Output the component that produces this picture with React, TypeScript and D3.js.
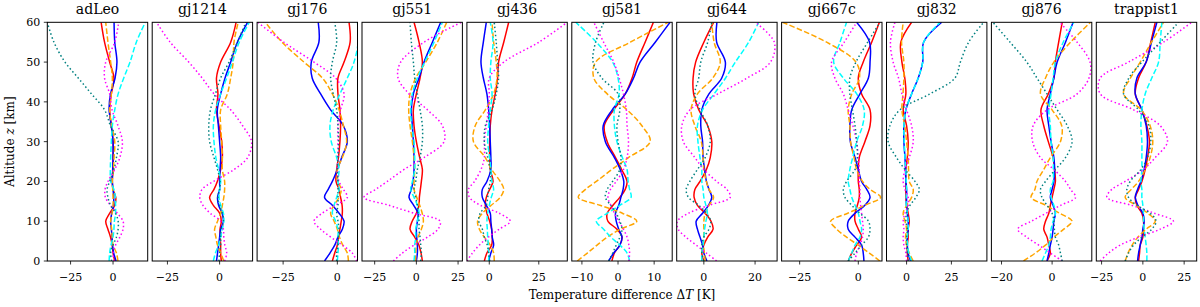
import React from "react";
import * as d3 from "d3";

// altitude grid (km) shared by every profile
const altitudes = [0, 2, 4, 6, 8, 10, 12, 14, 16, 18, 20, 23, 26, 30, 34, 38, 42, 46, 50, 55, 60];

const panelNames = ["adLeo", "gj1214", "gj176", "gj551", "gj436", "gj581", "gj644", "gj667c", "gj832", "gj876", "trappist1"];

const xDomains = [
  [-38.7, 20.4], [-32.3, 15.8], [-37, 9.3], [-32.6, 27.6], [-11.3, 39.4], [-12.8, 15],
  [-10.6, 28.6], [-32.7, 10.1], [-11.2, 44.8], [-24, 15.7], [-28.2, 32.6],
];

const xTicks = [
  [-25, 0], [-25, 0], [-25, 0], [-25, 0, 25], [0, 25], [-10, 0, 10],
  [0, 20], [-25, 0], [0, 25], [-20, 0], [-25, 0, 25],
];

const yTicks = [0, 10, 20, 30, 40, 50, 60];

// each panel: red, blue, orange, cyan, magenta, teal (ΔT in K on the altitude grid)
const adLeo = [
  [1, 0, -0.5, -1.5, -3, -4.3, -2, 1, 1.6, 0, -0.5, 0, 0, 0, -1, -2, -1, 0.5, -2, -5, -7],
  [1.8, 0.4, -0.3, -0.6, -1, -1.4, -0.8, 0.3, 0.4, 0, -0.4, -0.2, 0, 0, -1, -2.3, -1.5, 1.2, 2.3, 1, 0.6],
  [2.9, 2, 0, -0.5, -0.8, -1.4, -0.6, 0, 0, -0.2, -0.4, 0.2, 0.6, 1, -0.8, -2, -1, -0.4, -1.4, -3, -4.3],
  [-2.3, -2, -1.2, 0, 0.5, 0.8, 1.5, 1.5, 1.4, 0.5, -1.4, -1.6, -1.4, -1, -0.4, 1, 3, 6.3, 10, 13.7, 19],
  [0.6, 0, 1.5, 4, 5.9, 5.9, 2.5, -1.5, -4.5, -4.7, -3, 1, 4, 5.5, 2.9, -0.6, -2, -5, -4.3, 1, 3.3],
  [-0.8, -1.4, 0, 2, 3, 3, 1.5, -1.5, -3, -3.5, -2, 0.5, 2, 3, -1.5, -5, -12.7, -20.5, -28.3, -34.8, -38.7],
];

const gj1214 = [
  [0.8, 0.5, 0.5, 0.3, 0.2, 0.8, 0, -3, -4.8, -2.7, -1.1, 0.5, 1.3, 1, -0.3, -1.5, -0.8, -1.5, 0.5, 5.3, 7.9],
  [-1.5, -1, -0.5, 0, 0.5, 1.8, 1.2, -0.5, -1, 0, 0, 0.2, 0.5, 0, -0.6, -1.1, 0.5, 2.6, 5.3, 8.5, 13.4],
  [2, 0.5, -1, -1.8, -2.4, -1, 0.5, 1.3, 2, 2.4, 2.4, 1.3, 1.3, 1, 0.5, 0.5, 3.7, 5.3, 6.5, 6.9, 8.9],
  [-3, -2, -0.5, 0.5, 1.3, 2, 1.8, 0.5, -0.3, 0, 0.5, -0.5, -1.8, -2.7, -3, -1.9, 0.5, 3.4, 6.1, 9.4, 14.2],
  [2.4, 3.4, 2.5, 2, 1.8, 0.5, -4.5, -8, -9.5, -8.4, -3, 6.9, 13.4, 15.3, 11, 5.3, -2.7, -8.4, -14.8, -23.7, -30.2],
  [-0.3, 0, 0.5, 0.5, 0.8, 1.8, 1.3, 0, -0.8, 0, 0.2, -1, -2.7, -4.8, -5.2, -4.4, -2, 0.5, 4.5, 8.5, 12.6],
];

const gj176 = [
  [-2.3, -1.2, 0, 0.5, 1.2, 1.8, 2.3, 2.2, 1.5, 0.8, -0.6, -0.3, 0.5, 1.2, 1.5, 1.2, 0.3, 0.3, 3.1, 5.9, 5.4],
  [-5.9, -3.4, -1.2, 0.3, 2.3, 3.1, 0.8, -2.3, -5.9, -4.2, -2.3, 0, 2, 4.6, 2.8, -3.1, -7.7, -11.6, -12, -8.5, -8.8],
  [5.1, 4.6, 2.5, 1, 0, -1.5, -3.1, -1.5, 0.8, 1.8, 0.3, 0, 2.3, 4.3, 2.8, 0.8, -2.3, -6.9, -15.4, -25.5, -33.2],
  [0, 0.3, 0.5, 0.3, 0.3, -0.8, -2.3, -1.5, -0.3, 0.8, 0.3, 0.8, -0.3, -2.8, -3.4, -1.9, 1.2, 4.6, 7.7, 9.6, 9.3],
  [9, 6.9, 2.3, -3, -7.7, -10.8, -7, -1, 4.6, 2.8, 0.8, 0, 0.3, 0.3, 0.3, 1.5, 3.1, -0.8, -10.8, -24.7, -36.7],
  [-0.3, -0.3, 0.3, 0.5, 0.8, 0.3, -0.3, 0.3, 0.3, 0.3, 0.3, 0, 0.3, 0.6, 0.3, -0.3, -1.9, -3.1, -2.3, -0.3, -1.2],
];

const gj551 = [
  [3.6, 2.8, 1.5, -1, -3.8, -2.5, 0, 1.6, 1.8, 2.4, 3, 3.6, 2, 0, -1.4, -1.8, 0, 2.2, 3.6, 1.6, -1.4],
  [0, 0.6, 0.6, 0.2, 0, 0.6, 1, -1.6, -4.4, -3, -2, -1.4, -1.4, -1.8, -2.4, -3, -1.8, 1.6, 4.6, 9.6, 14.6],
  [-0.4, -0.4, 0, 1, 3, 4.2, 3.5, 2, 0.2, -1.4, -1.4, -1, -1.4, -2.4, -3.8, -4.6, -3.8, -0.4, 5.6, 12.6, 18.2],
  [-1.4, -1, -1, -0.4, -0.4, 0.6, 1.6, 0.6, -1.4, -3.4, -2.4, -1, -1, -1.4, -2.8, -3.4, -2.4, 0.6, 5, 10.6, 15.6],
  [-13.8, -8.4, -1.4, 6.6, 13, 14.2, -1.4, -16.4, -31.4, -24.4, -17.4, -7.4, 4.6, 16.6, 15.6, 6.6, -4.4, -11, -9.4, 4.6, 27],
  [2.6, 3, 2.6, 2.2, 1.6, 1.6, 1, 0.6, -0.4, -1.4, -0.4, 0.6, 2.2, 3.6, 3.6, 2.2, 0.6, -1, -1.8, -3, -3.8],
];

const gj436 = [
  [-2.5, -1.2, 1.2, 1.5, 1.2, 0.2, -1.2, -2, -1.5, 0.2, 1.9, 0.5, 0.2, 0.2, 0.5, 1.4, 3, 4.2, 4.7, 7.3, 9.8],
  [-0.3, 0.8, 2.2, 1.5, 1.2, 0.8, 0.5, -1.5, -3.5, -3.5, -1.2, 0.8, 0.8, 0.5, 0.2, -0.3, -1.2, -3, -4.2, -3, -1.5],
  [2.5, 2.2, 0.5, -2.5, -5, -5.9, -3.5, 1, 5.5, 7.3, 5.5, 1.2, -2, -8, -7.1, -2, 2.2, 3.9, 3.5, 2.2, 1.4],
  [-0.3, -0.3, -0.5, -0.8, -1, -1.2, -0.8, 0, 1, 2.2, 1.3, 0.8, 0.2, -0.8, -0.3, 0.5, 1.4, 0.5, 0.8, 1.9, 0.5],
  [-11.3, -8.5, -5, -0.5, 5, 10.6, 5, -4.5, -10, -10.5, -7.5, -4.2, -2.5, -2.5, -1.5, -0.5, 0, 0, 7.3, 25, 39.4],
  [0.2, -0.3, -1, -2.5, -3.5, -5.3, -4.6, -1.5, -0.8, -0.3, 0.5, 0.5, -0.8, -2.5, -2, 1.4, 3.5, 4.7, 4.2, 3.5, 2.5],
];

const gj581 = [
  [-1.7, -1, 0.5, 1.1, -0.3, -2.8, -3, -1.4, 0.5, 2, 2.5, 1, -0.7, -3, -3.8, -1.2, 2, 3.9, 5.2, 7.5, 9.8],
  [-2.6, -1.2, 0.5, 1.1, 0.2, -0.5, -0.7, 0.2, 0.8, 1.4, 1.6, 0.6, -1, -3.5, -4.1, -1.6, 2, 4.3, 6.1, 10.3, 14.4],
  [-11.3, -8.5, -5.8, -3, 0.6, 5.2, 1.2, -5, -11, -9, -6, -1.7, 2.9, 8.9, 6.6, 2.5, -3, -6.7, -6.2, 3.4, 13.9],
  [3.2, 2.5, 0.5, -2, -4, -6, -3, 0.5, 3.6, 3.2, 2.8, 2.5, 1.2, -0.3, -1, -1, 0.3, 0, -1.5, -6, -11.7],
  [3, 3.2, 3, 2.5, 1.5, 0.2, -1, -2, -2.8, -2.1, -0.5, 1.5, 2.5, 2.9, 2.5, 2.3, 1.5, 0.3, -1.2, -4, -6.7],
  [-2.6, -1.5, -0.5, 0.5, 1.1, 0.5, -0.5, -2, -3.5, -3, -1.5, 0.5, 0.8, 0, -0.3, 0.5, 0, -4.5, -6.9, -6.2, -3.9],
];

const gj644 = [
  [0, -0.8, 0, 1.5, 3.6, 2.8, 0.5, -2.5, -3.8, -3.5, -1.5, 1, 2.5, 3.1, 1.5, -2, -4, -4.2, -3.2, 0, 3.8],
  [1.2, 0, -0.5, -1.5, -2.5, -3, -0.5, 1.8, 3.1, 2, 1, 0.3, -0.3, -0.5, -1.2, -0.8, 2, 7, 8.4, 5, 5.1],
  [0.5, 0.2, -0.1, 0, 0, 0, 0.5, 2, 3.8, 2, 1, 0, -0.3, -1, -3.5, -5, -2.5, 3.5, 6.4, 4, 3.1],
  [-0.8, -0.8, -0.3, 0, 0.3, 0.8, 1.4, 0.8, 0, -0.3, -0.8, -0.8, -1.5, -2.3, -2.5, -0.5, 4, 8.5, 12.3, 17.5, 21.4],
  [5, 1, -3, -7, -10, -10.3, -6, 2, 10.3, 9, 5, 0, -3.5, -8, -8.6, -5.4, 5.5, 16.9, 26, 27.5, 20.1],
  [0, -0.8, -0.8, 0, 2, 2.7, 1, -2, -6, -6.9, -5.5, -2.5, 0.5, 2.5, 1.5, -1.5, -3.5, -2, -1.2, 1.5, 3.1],
];

const gj667c = [
  [-4.3, -2.8, -0.7, 1.4, 0, -1.4, -1.4, -0.4, 0.4, 0.4, 0, 0, 0.4, 2.8, 5, 5, 1.4, 0, 2.1, 5.7, 9],
  [2.4, 2.1, 1.4, -1.4, -4.3, -4.3, -1.4, 2.8, 5, 3.6, 1.4, 0, -1.4, -3.4, -3.6, -2.8, 0.7, 4.3, 5, 4.8, -0.7],
  [9.2, 4.7, 0, -5, -9.2, -11.8, -4.5, 2.7, 9.5, 5, 1.8, -0.7, -1.8, -3.3, -3.6, -4.3, -2.8, 0.5, -1, -13.5, -32.3],
  [-4.3, -2.8, -1.4, 0.7, 1.4, 0.7, 0, -1.4, -2.8, -3.6, -4.3, -3.6, -2.4, -0.7, 1.8, 2.5, -0.7, -6.4, -10.5, -7.8, -5],
  [-1.4, -0.7, 0.7, 1.8, 2.1, 1.8, 1.4, 1, 0.7, 0.7, 0.4, 0.4, 0, -0.7, -2.3, -4.3, -6.4, -10, -11.4, -6, -0.7],
  [-4.3, -1.4, 1.4, 4.3, 5, 4.3, 0.7, -2.8, -5.7, -6.4, -5, -1.4, -0.4, -0.7, -1.4, -2.5, -3.6, -3.6, -1, 4, 9.2],
];

const gj832 = [
  [0.9, 0.4, 0.4, 0.9, 0.9, 1.5, 0.9, 0, -0.4, -0.4, -0.4, -0.4, 0.4, 0.9, 0, -1.9, -0.4, -1, -2.6, -3.2, 2.8],
  [2.2, 0.9, 0.4, 0.4, 0.9, 0.9, 0.4, 0, 0, 0, -0.4, -0.6, -0.9, -1.5, -1.5, -0.4, 2.8, 6.5, 9, 9.5, 19.6],
  [3.7, 1.5, 0, -0.6, 0, -0.9, -1.9, 0, 2.8, 3.7, 1.5, 1.1, 0.9, 0, -1, -2.6, -2, -1.5, -1.5, -2.8, -1.9],
  [2.8, 1.2, 0.6, 0.4, 0.9, 0.9, 0.4, -0.2, -0.2, 0, -0.2, -0.4, -0.9, -1.3, -1.5, -0.4, 2.8, 6.5, 9, 9.5, 18.7],
  [0, -0.4, -1.5, -1.9, -1.5, -1.9, -0.9, 0.9, 0.9, -0.9, -1.9, -0.9, 1.5, 3.7, 2.8, 0, -2.6, -4.5, -7.5, -9, -6.5],
  [0.9, 0.4, 0, 0, 0.4, -0.4, 0, 1.9, 5.2, 7.1, 4.7, -0.9, -5.6, -10.3, -9.3, -3.7, 13, 27, 30, 34.6, 43],
];

const gj876 = [
  [-2, -0.7, -1.3, -2, -3.3, -2.6, -1.3, -0.7, 0, 0.7, 1.3, 1, 0.4, -1.5, -3.3, -4.4, -1.5, 0.7, 1.3, 2.6, 4],
  [-2, -1.3, -0.7, 0, 0.4, 0.7, 1.3, 0.4, -0.7, 0, 0.7, 1, 0.7, -0.4, -1.3, -2, -0.7, 0.7, 2, 5.3, 8.3],
  [-11.3, -6.6, -2.6, 0.7, 4.6, 7.9, 3, -2.5, -8.3, -6.8, -6, -3.3, -0.7, 3.3, 3.8, 0, -4.6, -2.6, 0.7, 7.3, 15.2],
  [-4, -2.6, -1.3, -0.7, -0.4, 0.4, 1.3, 0.7, -0.4, -0.7, 0.4, 0.5, 0.4, -0.4, -0.7, -1.3, -0.4, 0.4, 1.3, 4.4, 8.6],
  [4, -0.7, -5.3, -10, -13.6, -8.2, -2.4, 3.4, 9.3, 7.3, 5.3, 0.7, -4.6, -7.7, -7.5, -2, 9.9, 14.6, 15, 9.9, 3],
  [4, 3.3, 2.6, 1.3, 0.9, 0.7, 0, -2, -4, -4.6, -2.6, 1.3, 5.3, 7.9, 6, 2, -2, -6, -10, -16.6, -23.4],
];

const trappist1 = [
  [-2.6, -2, -1.6, 0, 0.4, 0.4, -0.6, -3.6, -4.6, -2.6, -0.6, 1.4, 2.8, 4, 2.4, -0.6, -4.6, -2.6, 2, 4.8, 7.5],
  [-3.2, -2.6, -1.6, -0.6, 0, 0.8, 0, -3, -4.6, -3.2, -1.2, 0.8, 2, 2.8, 2, -0.6, -4.6, -3.6, 2, 5.2, 8.5],
  [-10.7, -9, -6.5, -3, 2, 7.5, 3, -4, -10.7, -7, -2.6, 1.4, 4.4, 6, 4.4, -1, -11.7, -7.5, -1.6, 5.2, 12.5],
  [2.4, 2.4, 2, 1.4, 0.8, 0.4, 0.4, 0, -0.6, -0.6, -1.2, -0.6, -0.6, -0.6, -1.2, -0.6, 1.4, 5.4, 9.5, 10.5, 11.5],
  [-25.8, -20.8, -13.7, -2.6, 10.5, 18.5, 7, -6.9, -21.8, -18.8, -10.7, 0.4, 7.5, 14.9, 10.5, -5.6, -25.8, -25.8, -8.7, 12.5, 29.6],
  [-10.7, -8.7, -5.6, -0.6, 5.4, 8, 4.4, -3.6, -8.7, -9.7, -7.7, -1.2, 2.8, 4.8, 3.6, -2.6, -11.7, -8.5, -0.6, 10.5, 21.6],
];

const panelData = [adLeo, gj1214, gj176, gj551, gj436, gj581, gj644, gj667c, gj832, gj876, trappist1];

const seriesStyles = [
  { color: "#ff0000", dash: null },
  { color: "#0000ff", dash: null },
  { color: "#ffa500", dash: "5.5 2.4" },
  { color: "#00ffff", dash: "5.5 2.4" },
  { color: "#ff00ff", dash: "1.5 2.5" },
  { color: "#008080", dash: "1.5 2.5" },
];

const W = 1200;
const H = 307;
const left0 = 47.3;
const step = 104.9;
const panelW = 100.4;
const top = 22.3;
const bottom = 261;
const font = "'DejaVu Serif', serif";

const fmt = (v) => (v < 0 ? "\u2212" + Math.abs(v) : String(v));

const App = () => {
  const y = d3.scaleLinear().domain([0, 60]).range([bottom, top]);

  return (
    <svg width={W} height={H} style={{ position: "absolute", left: 0, top: 0, background: "#fff" }} fontFamily={font}>
      <defs>
        {panelNames.map((name, i) => (
          <clipPath id={`clip-${i}`} key={name}>
            <rect x={left0 + i * step} y={top} width={panelW} height={bottom - top} />
          </clipPath>
        ))}
      </defs>

      {panelNames.map((name, i) => {
        const x0 = left0 + i * step;
        const x = d3.scaleLinear().domain(xDomains[i]).range([x0, x0 + panelW]);
        const line = d3
          .line()
          .x((d) => x(d[0]))
          .y((d) => y(d[1]))
          .curve(d3.curveCatmullRom.alpha(0.5));

        return (
          <g key={name}>
            <g clipPath={`url(#clip-${i})`}>
              {panelData[i].map((vals, s) => (
                <path
                  key={s}
                  d={line(vals.map((v, k) => [v, altitudes[k]]))}
                  fill="none"
                  stroke={seriesStyles[s].color}
                  strokeWidth={1.5}
                  strokeDasharray={seriesStyles[s].dash || undefined}
                />
              ))}
            </g>
            <rect x={x0} y={top} width={panelW} height={bottom - top} fill="none" stroke="#000" strokeWidth={1} />
            <text x={x0 + panelW / 2} y={14} textAnchor="middle" fontSize={14}>
              {name}
            </text>
            {xTicks[i].map((t) => (
              <g key={t} transform={`translate(${x(t)},${bottom})`}>
                <line y2={3.5} stroke="#000" strokeWidth={0.8} />
                <text y={19.5} textAnchor="middle" fontSize={11}>
                  {fmt(t)}
                </text>
              </g>
            ))}
            {i === 0 &&
              yTicks.map((t) => (
                <g key={t} transform={`translate(${x0},${y(t)})`}>
                  <line x2={-3.5} stroke="#000" strokeWidth={0.8} />
                  <text x={-7} dy="0.35em" textAnchor="end" fontSize={11}>
                    {t}
                  </text>
                </g>
              ))}
          </g>
        );
      })}

      <text transform={`translate(14,${(top + bottom) / 2}) rotate(-90)`} textAnchor="middle" fontSize={12}>
        Altitude <tspan fontStyle="italic">z</tspan> [km]
      </text>
      <text x={622} y={299} textAnchor="middle" fontSize={12}>
        Temperature difference Δ<tspan fontStyle="italic">T</tspan> [K]
      </text>
    </svg>
  );
};

export default App;
